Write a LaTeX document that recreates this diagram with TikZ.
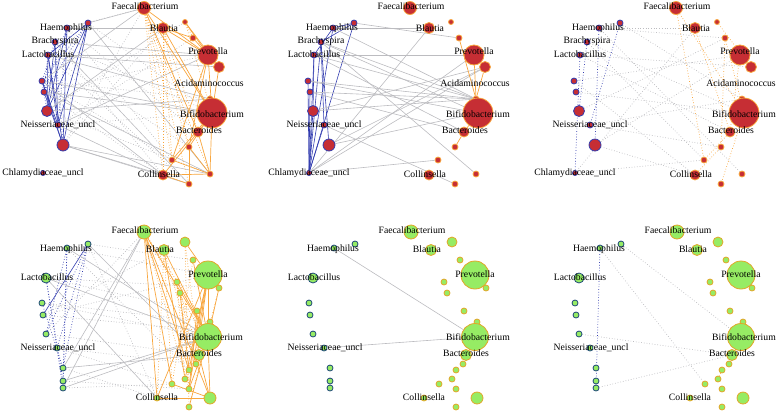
\documentclass[tikz,border=0pt]{standalone}
\usepackage{fontspec}
\setmainfont{Liberation Serif}
\usepackage{tikz}
\usetikzlibrary{backgrounds}
\definecolor{netRed}   {RGB}{198, 46,  52}
\definecolor{netBlue}  {RGB}{50,  60,  175}
\definecolor{netOrange}{RGB}{248, 166, 62}
\definecolor{netGreen} {RGB}{150, 236, 100}
\definecolor{netTeal}  {RGB}{30,  72,  120}
\definecolor{netGold}  {RGB}{226, 166, 40}
\definecolor{netGray}  {RGB}{188, 188, 192}

\tikzset{
  gnode/.style={circle,inner sep=0pt,line width=0.8pt},
  topL/.style={gnode,fill=netRed,draw=netBlue},
  topR/.style={gnode,fill=netRed,draw=netOrange},
  botL/.style={gnode,fill=netGreen,draw=netTeal},
  botR/.style={gnode,fill=netGreen,draw=netGold},
  taxon/.style={inner sep=0pt,text height=1.55ex,text depth=0.35ex,
                font=\fontsize{9.7}{11}\selectfont},
  eBlue/.style={netBlue,line width=0.6pt},
  eBlueDot/.style={netBlue,line width=0.7pt,dotted},
  eGray/.style={netGray,line width=0.6pt},
  eGrayDot/.style={netGray,line width=0.7pt,dotted},
  eOrg/.style={netOrange,line width=0.7pt},
  eOrgDot/.style={netOrange,line width=0.7pt,dotted},
}

% upper row: same layout, panel prefix in \p
\newcommand{\toplayout}{%
  \foreach \n/\x/\y/\r in {hae/67/28/3, lt/88/23/3, bra/55/42/3, lac/48/55/3,
      l2/42/81/3, l3/44/92/3, l4/47/111/5.5, nei/58/125/3, l5/63/145/6, chl/43/173/2.5}
    \node[topL,minimum size=2*\r pt] (\p-\n) at (\x,\y) {};
  \foreach \n/\x/\y/\r in {fae/144/8/6.5, bla/163/28/5.5, r1/185/22/2.5, r2/193/38/3,
      pre/208/55/10, r3/219/67/5.5, aci/210/99/3, bif/212/113/15, bac/198/132/5,
      r4/189/147/3, r5/172/160/3, col/163/175/5, r6/210/174/3, r7/189/184/3}
    \node[topR,minimum size=2*\r pt] (\p-\n) at (\x,\y) {};
  % labels
  \node[taxon] (\p-tfae) at (145,7)   {Faecalibacterium};
  \node[taxon] (\p-thae) at (66,28)   {Haemophilus};
  \node[taxon] (\p-tbra) at (55,41)   {Brachyspira};
  \node[taxon] (\p-tlac) at (48,55)   {Lactobacillus};
  \node[taxon] (\p-tnei) at (58,125)  {Neisseriaceae\_uncl};
  \node[taxon] (\p-tchl) at (43,173)  {Chlamydiaceae\_uncl};
  \node[taxon] (\p-tbla) at (164,29)  {Blautia};
  \node[taxon] (\p-tpre) at (208,52)  {Prevotella};
  \node[taxon] (\p-taci) at (209,84)  {Acidaminococcus};
  \node[taxon] (\p-tbif) at (212,115) {Bifidobacterium};
  \node[taxon] (\p-tbac) at (199,131) {Bacteroides};
  \node[taxon] (\p-tcol) at (159,175) {Collinsella};
}

% lower row
\newcommand{\botlayout}{%
  \foreach \n/\x/\y/\r in {hae/67/248/3, lt/88/244/3, lac/46/278/5, m1/42/303/3,
      m2/43/315/3, m3/46/334/3, nei/57/348/3, m4/63/368/3, m5/63/381/3, m6/63/388/3}
    \node[botL,minimum size=2*\r pt] (\p-\n) at (\x,\y) {};
  \foreach \n/\x/\y/\r in {fae/144/232/7, bla/164/250/5.5, s1/185/242/5, s2/193/260/3,
      pre/208/275/14, s3/219/288/3, s4/177/282/3, s5/180/293/3, s6/197/311/3,
      s7/210/322/3, s8/200/330/3, bif/208/337/13.5, bac/199/355/5.5, s9/196/364/3,
      s10/189/370/3, s11/185/379/3, s12/172/384/3, s13/189/389/3, col/157/398/3,
      s14/210/398/6, s15/189/407/3}
    \node[botR,minimum size=2*\r pt] (\p-\n) at (\x,\y) {};
  % labels
  \node[taxon] (\p-tfae) at (145,231) {Faecalibacterium};
  \node[taxon] (\p-thae) at (66,249)  {Haemophilus};
  \node[taxon] (\p-tlac) at (47,278)  {Lactobacillus};
  \node[taxon] (\p-tnei) at (58,348)  {Neisseriaceae\_uncl};
  \node[taxon] (\p-tbla) at (160,250) {Blautia};
  \node[taxon] (\p-tpre) at (208,275) {Prevotella};
  \node[taxon] (\p-tbif) at (211,338) {Bifidobacterium};
  \node[taxon] (\p-tbac) at (199,354) {Bacteroides};
  \node[taxon] (\p-tcol) at (157,398) {Collinsella};
}

\begin{document}
\begin{tikzpicture}[x=1pt,y=-1pt]
  \useasboundingbox (0,0) rectangle (778,413);

  % nodes and labels
  \foreach \p/\dx in {a/0, b/266, c/532}{
    \begin{scope}[xshift=\dx pt]
      \toplayout
    \end{scope}
  }
  \foreach \p/\dx in {d/0, e/267, f/533}{
    \begin{scope}[xshift=\dx pt]
      \botlayout
    \end{scope}
  }

  \begin{scope}[on background layer]
    % panel a
    \foreach \s/\t in {lt/l5, lt/nei, lt/l4, lt/lac, hae/l4, hae/l5, lac/l5, lac/nei,
        bra/l4, lac/l4, l2/l5, l3/l5, l2/nei, bra/nei}
      \draw[eBlue] (a-\s) -- (a-\t);
    \foreach \s/\t in {lt/l2, hae/l3, bra/l5, lac/l3, l2/l4, hae/nei, bra/l2, lt/l3}
      \draw[eBlueDot] (a-\s) -- (a-\t);
    \foreach \s/\t in {lt/r6, lt/fae, hae/bla, bra/pre, lac/pre, lac/r3, lac/aci, l2/bif,
        l2/fae, l3/bif, l4/aci, l4/bla, nei/pre, nei/col, l5/r6, l5/col, l5/r7,
        l2/col, l3/r6, bra/r7}
      \draw[eGray] (a-\s) -- (a-\t);
    \foreach \s/\t in {lt/bif, hae/bac, bra/bif, lac/r4, l2/r5, l3/pre, l4/r1, nei/bif,
        l5/bla, lac/r7, hae/r5, l2/aci, l3/col, bra/col, l4/r6, nei/r2, hae/fae, l5/fae}
      \draw[eGrayDot] (a-\s) -- (a-\t);
    \foreach \s/\t in {fae/bif, fae/bac, fae/pre, bla/pre, bla/bif, r1/pre, r2/pre,
        r1/r3, pre/bif, pre/r5, r3/bif, aci/bif, bif/bac, bac/col, bac/r6, bif/r6,
        bif/r4, r4/r7, r5/bif, col/r6, r5/r6, pre/r4, bla/r2, r4/r6, col/r7}
      \draw[eOrg] (a-\s) -- (a-\t);
    \foreach \s/\t in {fae/r5, bla/r4, fae/col, bla/bac, r1/r2, fae/r7, bla/col,
        r1/bif, fae/r4, bla/r5, fae/r6}
      \draw[eOrgDot] (a-\s) -- (a-\t);

    % panel b
    \foreach \s/\t in {chl/lt, chl/hae, chl/bra, chl/lac, chl/l4, chl/l2, chl/l3,
        chl/nei, lt/hae, lt/bra, bra/l5, lac/l4, bra/nei, hae/lac}
      \draw[eBlue] (b-\s) -- (b-\t);
    \foreach \s/\t in {hae/bla, hae/aci, lt/r2, bra/aci, bra/r6, lac/pre, lac/bac,
        l2/aci, l2/bif, l3/aci, l3/bac, l4/r3, l4/aci, nei/r7, l5/r3, l5/bif,
        chl/bla, chl/r5, chl/pre, chl/r3, bra/bif, lac/aci}
      \draw[eGray] (b-\s) -- (b-\t);
    \foreach \s/\t in {r2/aci, aci/r3, aci/pre, aci/bif, bif/bac, bac/r4}
      \draw[eOrg] (b-\s) -- (b-\t);

    % panel c
    \foreach \s/\t in {lt/nei, bra/l4, lac/chl, hae/l5}
      \draw[eBlueDot] (c-\s) -- (c-\t);
    \foreach \s/\t in {lt/aci, hae/bla, hae/r2, bra/bif, lac/r3, lac/bac, l2/pre,
        l3/bif, l4/r2, nei/aci, l5/col, chl/r5, chl/bla, l5/pre, nei/r4, l2/col,
        hae/r6, bra/r5}
      \draw[eGrayDot] (c-\s) -- (c-\t);
    \foreach \s/\t in {fae/bif, bla/bac, r1/r3, r2/bif, pre/bac, bif/r7, bac/r5,
        col/r4, r2/r4, fae/r5}
      \draw[eOrgDot] (c-\s) -- (c-\t);

    % panel d
    \draw[eBlue] (d-lt) -- (d-m2);
    \foreach \s/\t in {hae/m6, lt/m4, lac/m5, hae/m3, lt/nei, lac/m6, m1/m4, hae/m5,
        lt/m3}
      \draw[eBlueDot] (d-\s) -- (d-\t);
    \foreach \s/\t in {hae/bif, lt/bac, lac/bif, lac/col, m4/bac, m5/bif, m6/bif,
        m6/fae, m4/fae}
      \draw[eGray] (d-\s) -- (d-\t);
    \foreach \s/\t in {hae/pre, lt/s2, lac/s6, m1/bif, m2/s8, m3/bac, nei/s12,
        m4/col, hae/s10, lac/s3, m1/s7, m2/bla, m3/fae, nei/s9, m5/s13, lt/col,
        m6/s12, m2/pre}
      \draw[eGrayDot] (d-\s) -- (d-\t);
    \foreach \s/\t in {fae/col, fae/bif, fae/s12, fae/s10, fae/s14, bla/bif, bla/s11,
        pre/bif, pre/s11, pre/s9, pre/s10, pre/s13, pre/col, s1/pre, s3/bif,
        bif/s14, bif/s13, bac/s14, col/s14, s12/s14, s15/bif, s4/bif, s5/s10,
        s2/bif, s6/s13}
      \draw[eOrg] (d-\s) -- (d-\t);
    \foreach \s/\t in {fae/s6, bla/s9, s1/bac, s2/s12, s4/s11, s5/s13, bla/col,
        s1/s15, s4/bac, s5/s9, fae/s8, s3/s15, bla/s12, fae/s13}
      \draw[eOrgDot] (d-\s) -- (d-\t);

    % panel e
    \draw[eGray] (e-hae) -- (e-bif);
    \draw[eGray] (e-nei) -- (e-bif);

    % panel f
    \draw[eBlueDot] (f-hae) -- (f-m6);
    \foreach \s/\t in {lt/bif, hae/s12, m3/bac, m6/bac}
      \draw[eGrayDot] (f-\s) -- (f-\t);
    \foreach \s/\t in {s10/s11, bac/s9}
      \draw[eOrgDot] (f-\s) -- (f-\t);
  \end{scope}
\end{tikzpicture}
\end{document}
